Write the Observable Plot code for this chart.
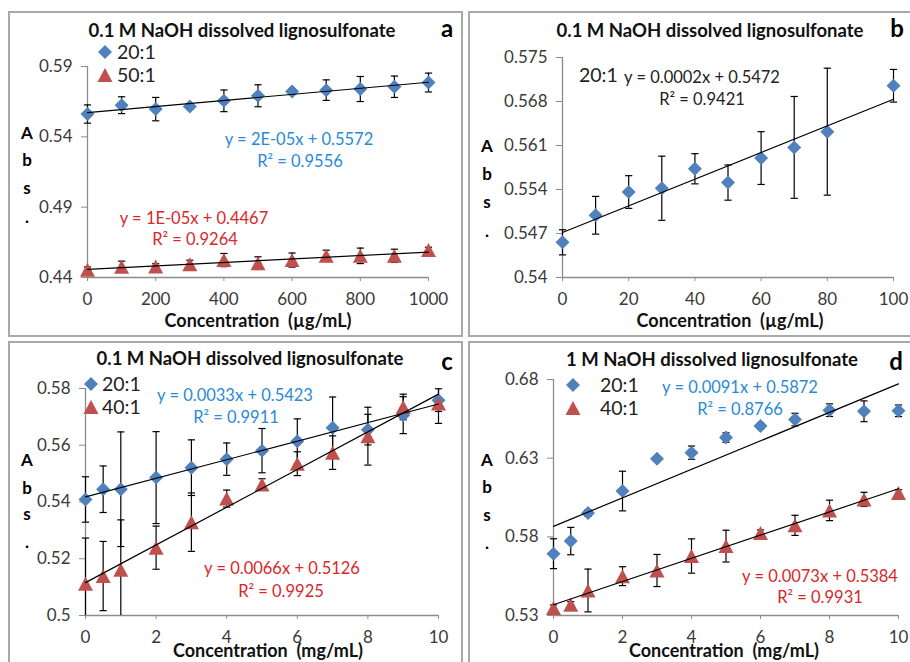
<!DOCTYPE html>
<html>
<head>
<meta charset="utf-8">
<script src="https://cdn.jsdelivr.net/npm/d3@7"></script>
<script src="https://cdn.jsdelivr.net/npm/@observablehq/plot@0.6"></script>
<style>
  html, body { margin: 0; padding: 0; background: #fff; }
  body { width: 910px; height: 662px; overflow: hidden; font-family: Lato, "Open Sans", sans-serif; }
  #root { position: relative; width: 910px; height: 662px; overflow: hidden; }
  .panel { position: absolute; border: 2px solid #a9a9a9; box-sizing: border-box; }
  .chart { position: absolute; }
  .t { position: absolute; white-space: pre; line-height: 1; transform: translate(-50%, -50%); }
  .s { transform: translate(0, -50%); }
  .title { font-weight: bold; font-size: 18.5px; color: #111; }
  .letter { font-weight: bold; font-size: 24px; color: #000; }
  .ylab { font-weight: bold; font-size: 17px; color: #000; }
  .xlab { font-weight: bold; font-size: 18px; color: #111; }
  .leg { font-size: 19.5px; color: #222; }
  .eq { font-size: 16.5px; }
  .blue { color: #2a8ad6; }
  .red { color: #d9272b; }
  .black { color: #222; }
</style>
</head>
<body>
<div id="root"></div>
<script>
// ---------- data ----------
const titles = ["0.1 M NaOH dissolved lignosulfonate", "0.1 M NaOH dissolved lignosulfonate",
                "0.1 M NaOH dissolved lignosulfonate", "1 M NaOH dissolved lignosulfonate"];
const panelLetters = ["a", "b", "c", "d"];
const xTitles = ["Concentration  (µg/mL)", "Concentration  (µg/mL)", "Concentration  (mg/mL)", "Concentration  (mg/mL)"];
const yTitleLetters = ["A", "b", "s", "."];

// panel a
const aX = [0, 100, 200, 300, 400, 500, 600, 700, 800, 900, 1000];
const a20 = [0.5562, 0.5625, 0.5597, 0.5616, 0.5656, 0.5692, 0.5722, 0.5732, 0.5740, 0.5756, 0.5786];
const a20err = [0.0065, 0.0060, 0.0083, 0.0020, 0.0077, 0.0078, 0.0020, 0.0073, 0.0089, 0.0076, 0.0067];
const a50 = [0.4455, 0.4476, 0.4478, 0.4495, 0.4524, 0.4502, 0.4524, 0.4554, 0.4554, 0.4554, 0.4595];
const a50err = [0.0020, 0.0040, 0.0020, 0.0028, 0.0047, 0.0045, 0.0050, 0.0040, 0.0055, 0.0047, 0.0020];
const aXTicks = [0, 200, 400, 600, 800, 1000];
const aYTicks = [0.44, 0.49, 0.54, 0.59];
const aEq = ["y = 2E-05x + 0.5572", "R² = 0.9556", "y = 1E-05x + 0.4467", "R² = 0.9264"];

// panel b
const bX = [0, 10, 20, 30, 40, 50, 60, 70, 80, 100];
const b20 = [0.5456, 0.5499, 0.5536, 0.5542, 0.5573, 0.5551, 0.5590, 0.5607, 0.5632, 0.5705];
const b20err = [0.0020, 0.0030, 0.0026, 0.0051, 0.0024, 0.0028, 0.0042, 0.0081, 0.0101, 0.0026];
const bXTicks = [0, 20, 40, 60, 80, 100];
const bYTicks = [0.54, 0.547, 0.554, 0.561, 0.568, 0.575];
const bEq = ["y = 0.0002x + 0.5472", "R² = 0.9421"];

// panel c
const cX = [0, 0.5, 1, 2, 3, 4, 5, 6, 7, 8, 9, 10];
const c20 = [0.5409, 0.5445, 0.5445, 0.5486, 0.5521, 0.5551, 0.5581, 0.5614, 0.5662, 0.5655, 0.5706, 0.5759];
const c20err = [0.0080, 0.0082, 0.0202, 0.0162, 0.0098, 0.0057, 0.0078, 0.0079, 0.0108, 0.0054, 0.0065, 0.0040];
const c40 = [0.5112, 0.5139, 0.5161, 0.5239, 0.5329, 0.5412, 0.5462, 0.5535, 0.5574, 0.5632, 0.5735, 0.5747];
const c40err = [0.0161, 0.0122, 0.0176, 0.0076, 0.0103, 0.0030, 0.0020, 0.0042, 0.0059, 0.0102, 0.0045, 0.0070];
const cXTicks = [0, 2, 4, 6, 8, 10];
const cYTicks = [0.5, 0.52, 0.54, 0.56, 0.58];
const cEq = ["y = 0.0033x + 0.5423", "R² = 0.9911", "y = 0.0066x + 0.5126", "R² = 0.9925"];

// panel d
const dX = [0, 0.5, 1, 2, 3, 4, 5, 6, 7, 8, 9, 10];
const d20 = [0.5693, 0.5773, 0.5951, 0.6091, 0.6297, 0.6335, 0.6431, 0.6505, 0.6545, 0.6605, 0.6598, 0.6601];
const d20err = [0.0095, 0.0087, 0.0020, 0.0126, 0.0010, 0.0042, 0.0030, 0.0020, 0.0040, 0.0040, 0.0066, 0.0037];
const d40 = [0.5347, 0.5368, 0.5459, 0.5550, 0.5586, 0.5678, 0.5741, 0.5824, 0.5873, 0.5968, 0.6038, 0.6079];
const d40err = [0.0020, 0.0020, 0.0136, 0.0060, 0.0102, 0.0109, 0.0101, 0.0020, 0.0064, 0.0065, 0.0045, 0.0020];
const dXTicks = [0, 2, 4, 6, 8, 10];
const dYTicks = [0.53, 0.58, 0.63, 0.68];
const dEq = ["y = 0.0091x + 0.5872", "R² = 0.8766", "y = 0.0073x + 0.5384", "R² = 0.9931"];

const seriesNames = ["20:1", "50:1", "40:1"];
const BLUE = "#4f81bd", RED = "#c0504d", AXIS = "#8c8c8c";

// ---------- symbols ----------
const diamondSym = {draw(ctx) { ctx.moveTo(0, -7); ctx.lineTo(7, 0); ctx.lineTo(0, 7); ctx.lineTo(-7, 0); ctx.closePath(); }};
const triSym = {draw(ctx) { ctx.moveTo(0, -7); ctx.lineTo(7.5, 7); ctx.lineTo(-7.5, 7); ctx.closePath(); }};
const capSym = {draw(ctx) { ctx.moveTo(-3.6, 0); ctx.lineTo(3.6, 0); }};

const root = document.getElementById("root");

function makePanel(cfg) {
  const [y0, y1] = cfg.yDomain;
  const marks = [
    Plot.axisX({ticks: cfg.xTicks, tickSize: 4, tickPadding: cfg.xPad, stroke: AXIS, label: null, tickFormat: d => String(d)}),
    Plot.axisY({ticks: cfg.yTicks, tickSize: 6, tickPadding: 9, stroke: AXIS, label: null, tickFormat: d => String(+d.toFixed(3))}),
    Plot.ruleY([y0], {stroke: AXIS, strokeWidth: 1.3}),
    Plot.ruleX([cfg.xDomain[0]], {stroke: AXIS, strokeWidth: 1.3})
  ];
  const rowsList = cfg.series.map(s => cfg.x.map((x, i) => ({x, y: s.y[i], e: s.err[i]})));
  cfg.series.forEach((s, k) => {
    const rows = rowsList[k];
    marks.push(Plot.ruleX(rows, {x: "x", y1: d => Math.max(d.y - d.e, y0), y2: d => Math.min(d.y + d.e, y1), stroke: "#000", strokeWidth: 1.2}));
    marks.push(Plot.dot(rows.filter(d => d.y + d.e <= y1), {x: "x", y: d => d.y + d.e, symbol: capSym, fill: "none", stroke: "#000", strokeWidth: 1.2}));
    marks.push(Plot.dot(rows.filter(d => d.y - d.e >= y0), {x: "x", y: d => d.y - d.e, symbol: capSym, fill: "none", stroke: "#000", strokeWidth: 1.2}));
  });
  cfg.series.forEach((s, k) => {
    marks.push(Plot.dot(rowsList[k], {x: "x", y: "y", symbol: s.sym, fill: s.color, stroke: "none"}));
  });
  cfg.series.forEach((s, k) => {
    marks.push(Plot.linearRegressionY(rowsList[k], {x: "x", y: "y", ci: 0, stroke: "#000", strokeWidth: 1.2}));
  });
  const svg = Plot.plot({
    width: cfg.w, height: cfg.h,
    marginLeft: cfg.mL, marginRight: cfg.mR, marginTop: cfg.mT, marginBottom: cfg.mB,
    x: {domain: cfg.xDomain},
    y: {domain: cfg.yDomain},
    style: {fontFamily: "Lato, 'Open Sans', sans-serif", fontSize: "17px", color: "#3a3a3a", background: "transparent", overflow: "visible"},
    marks
  });
  svg.classList.add("chart");
  svg.style.left = cfg.left + "px";
  svg.style.top = cfg.top + "px";
  root.appendChild(svg);
}

function box(left, top, w, h) {
  const d = document.createElement("div");
  d.className = "panel";
  Object.assign(d.style, {left: left + "px", top: top + "px", width: w + "px", height: h + "px"});
  root.appendChild(d);
}
function txt(x, y, text, cls, start) {
  const d = document.createElement("div");
  d.className = "t " + cls + (start ? " s" : "");
  d.textContent = text;
  Object.assign(d.style, {left: x + "px", top: y + "px"});
  root.appendChild(d);
}
function legSym(x, y, kind) {
  const ns = "http://www.w3.org/2000/svg";
  const s = document.createElementNS(ns, "svg");
  s.setAttribute("width", 18); s.setAttribute("height", 18);
  s.style.position = "absolute"; s.style.left = (x - 9) + "px"; s.style.top = (y - 9) + "px";
  const p = document.createElementNS(ns, "path");
  p.setAttribute("d", kind === "d" ? "M9,2L16,9L9,16L2,9Z" : "M9,2L16.5,16L1.5,16Z");
  p.setAttribute("fill", kind === "d" ? BLUE : RED);
  s.appendChild(p);
  root.appendChild(s);
}
function yTitle(x, ys) { yTitleLetters.forEach((ch, i) => txt(x, ys[i], ch, "ylab")); }

// panel frames
box(8, 11, 455, 326);
box(468, 11, 460, 326);
box(8, 341, 455, 340);
box(468, 341, 460, 340);

// charts
makePanel({left: 9, top: 12, w: 454, h: 324, mL: 78, mR: 35, mT: 54, mB: 59, xPad: 11,
  x: aX, xDomain: [0, 1000], yDomain: [0.44, 0.59], xTicks: aXTicks, yTicks: aYTicks,
  series: [{y: a20, err: a20err, sym: diamondSym, color: BLUE}, {y: a50, err: a50err, sym: triSym, color: RED}]});
makePanel({left: 469, top: 12, w: 441, h: 324, mL: 93, mR: 17, mT: 45, mB: 59, xPad: 11,
  x: bX, xDomain: [0, 100], yDomain: [0.54, 0.575], xTicks: bXTicks, yTicks: bYTicks,
  series: [{y: b20, err: b20err, sym: diamondSym, color: BLUE}]});
makePanel({left: 9, top: 342, w: 454, h: 320, mL: 76, mR: 25, mT: 46, mB: 47, xPad: 11,
  x: cX, xDomain: [0, 10], yDomain: [0.5, 0.58], xTicks: cXTicks, yTicks: cYTicks,
  series: [{y: c20, err: c20err, sym: diamondSym, color: BLUE}, {y: c40, err: c40err, sym: triSym, color: RED}]});
makePanel({left: 469, top: 342, w: 441, h: 320, mL: 84, mR: 12, mT: 37, mB: 47, xPad: 11,
  x: dX, xDomain: [0, 10], yDomain: [0.53, 0.68], xTicks: dXTicks, yTicks: dYTicks,
  series: [{y: d20, err: d20err, sym: diamondSym, color: BLUE}, {y: d40, err: d40err, sym: triSym, color: RED}]});

// panel a text
txt(242, 30, titles[0], "title");
txt(447, 28, panelLetters[0], "letter");
legSym(105, 52, "d"); txt(117, 52, seriesNames[0], "leg", true);
legSym(105, 75, "t"); txt(117, 75, seriesNames[1], "leg", true);
yTitle(27, [132, 159, 187, 216]);
txt(299, 139, aEq[0], "eq blue"); txt(300, 161, aEq[1], "eq blue");
txt(194, 218, aEq[2], "eq red"); txt(195, 239, aEq[3], "eq red");
txt(258, 320, xTitles[0], "xlab");

// panel b text
txt(710, 30, titles[1], "title");
txt(897, 28, panelLetters[1], "letter");
txt(579, 75, seriesNames[0], "leg", true);
txt(702, 77, bEq[0], "eq black"); txt(702, 99, bEq[1], "eq black");
yTitle(487, [145, 173, 201, 230]);
txt(730, 320, xTitles[1], "xlab");

// panel c text
txt(250, 358, titles[2], "title");
txt(447, 361, panelLetters[2], "letter");
legSym(91, 384, "d"); txt(102, 384, seriesNames[0], "leg", true);
legSym(91, 407, "t"); txt(102, 407, seriesNames[2], "leg", true);
yTitle(27, [459, 487, 513, 541]);
txt(235, 395, cEq[0], "eq blue"); txt(236, 417, cEq[1], "eq blue");
txt(282, 568, cEq[2], "eq red"); txt(281, 591, cEq[3], "eq red");
txt(268, 650, xTitles[2], "xlab");

// panel d text
txt(712, 359, titles[3], "title");
txt(896, 361, panelLetters[3], "letter");
legSym(573, 385, "d"); txt(600, 385, seriesNames[0], "leg", true);
legSym(573, 408, "t"); txt(600, 408, seriesNames[2], "leg", true);
yTitle(487, [459, 486, 514, 542]);
txt(740, 387, dEq[0], "eq blue"); txt(740, 409, dEq[1], "eq blue");
txt(820, 576, dEq[2], "eq red"); txt(820, 597, dEq[3], "eq red");
txt(724, 650, xTitles[3], "xlab");
</script>
</body>
</html>
